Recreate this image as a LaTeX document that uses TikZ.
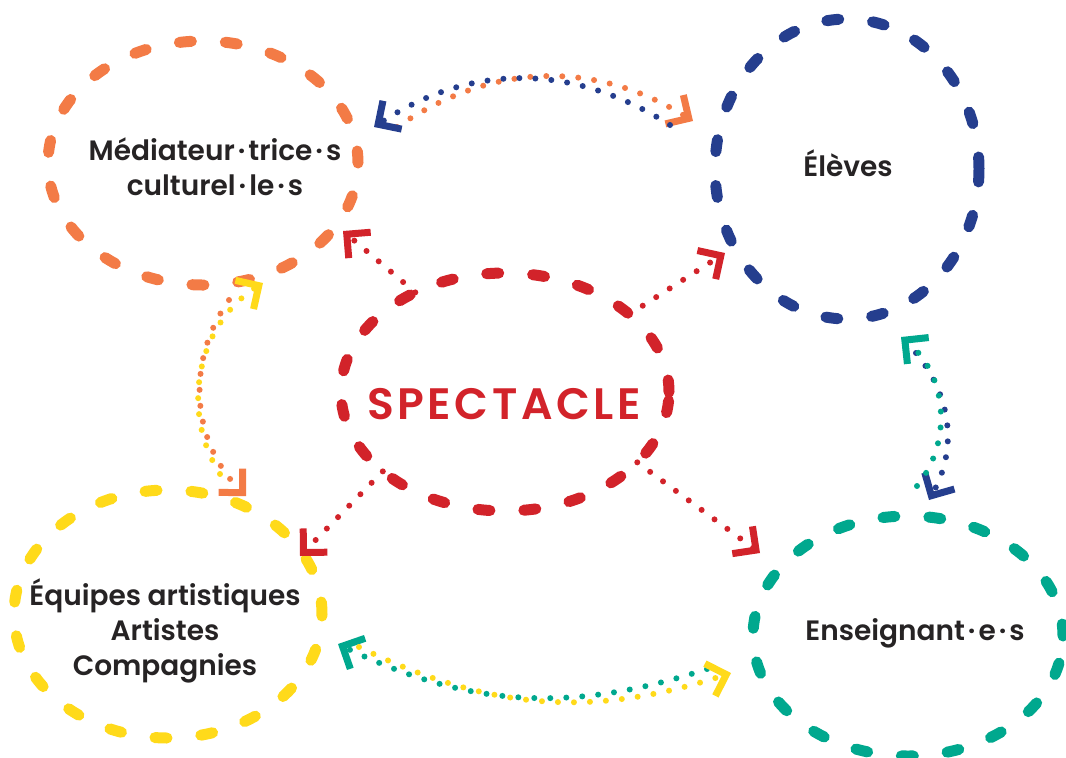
\documentclass[tikz,border=0pt]{standalone}
\usepackage{fontspec}
\setmainfont{Poppins}[BoldFont={Poppins SemiBold}]
\usetikzlibrary{arrows.meta, shapes.geometric}

\definecolor{medorange}{HTML}{F37B46}
\definecolor{eleblue}{HTML}{253E8E}
\definecolor{specred}{HTML}{D2232A}
\definecolor{equyellow}{HTML}{FFDA1A}
\definecolor{ensteal}{HTML}{00A88E}
\definecolor{txtgray}{HTML}{262324}

\newcommand{\mdot}{\hspace{1.5pt}·\hspace{1.5pt}}

\tikzset{
  actor/.style={ellipse, line width=5.5pt, line cap=round, dash pattern=on 6pt off 17pt, inner sep=0pt, outer sep=0pt},
  lbl/.style={font=\bfseries\fontsize{14}{17.5}\selectfont, text=txtgray, align=center},
  link/.style={line width=3pt, line cap=round, dash pattern=on 0pt off 8pt,
    -{Straight Barb[angle=90:12pt, line width=3.5pt]}}
}

\begin{document}
\begin{tikzpicture}[x=0.5pt, y=-0.5pt]
  \useasboundingbox (0,0) rectangle (1066,757);

  % partners round the show
  \node[actor, draw=medorange, minimum width=155pt, minimum height=122pt] (med) at (203,163) {};
  \node[actor, draw=eleblue, minimum width=132pt, minimum height=150pt] (ele) at (847,169) {};
  \node[actor, draw=specred, minimum width=164pt, minimum height=119pt] (spec) at (505,392) {};
  \node[actor, draw=equyellow, minimum width=154pt, minimum height=124pt] (equ) at (168,614) {};
  \node[actor, draw=ensteal, minimum width=155pt, minimum height=120pt] (ens) at (908,636) {};

  \node[lbl] (medtxt) at (215,167) {Médiateur\mdot trice\mdot s\\culturel\mdot le\mdot s};
  \node[lbl] (eletxt) at (848,163) {Élèves};
  \node[font=\bfseries\fontsize{22}{24}\selectfont\addfontfeatures{LetterSpace=8}, text=specred] (spectxt) at (504,404) {SPECTACLE};
  \node[lbl] (equtxt) at (165,631) {Équipes artistiques\\Artistes\\Compagnies};
  \node[lbl] (enstxt) at (915,633) {Enseignant\mdot e\mdot s};

  % two-way links
  \draw[link, medorange] ([shift={(39,-36)}]med.east) to[bend left=33] ([shift={(-22,-48)}]ele.west);
  \draw[link, eleblue] ([shift={(-45,-44)}]ele.west) to[bend right=33] ([shift={(16,-36)}]med.east);

  \draw[link, medorange] ([shift={(26,15)}]med.south) to[bend right=40] ([shift={(78,6)}]equ.north);
  \draw[link, equyellow] ([shift={(52,-16)}]equ.north) to[bend left=45] ([shift={(60,-2)}]med.south);

  \draw[link, eleblue] ([shift={(69,34)}]ele.south) to[bend left=34] ([shift={(21,-16)}]ens.north);
  \draw[link, ensteal] ([shift={(9,-30)}]ens.north) to[bend right=45] ([shift={(54,18)}]ele.south);

  \draw[link, ensteal] ([shift={(-46,33)}]ens.west) to[bend left=22] ([shift={(16,30)}]equ.east);
  \draw[link, equyellow] ([shift={(37,33)}]equ.east) to[bend right=22] ([shift={(-22,37)}]ens.west);

  % from the show outwards
  \draw[link, specred] (spec.132) -- ([shift={(-15,68)}]med.east);
  \draw[link, specred] (spec.32) -- ([shift={(10,84)}]ele.west);
  \draw[link, specred] (spec.213) -- ([shift={(-22,-58)}]equ.east);
  \draw[link, specred] (spec.-28) -- ([shift={(7,-83)}]ens.west);
\end{tikzpicture}
\end{document}
